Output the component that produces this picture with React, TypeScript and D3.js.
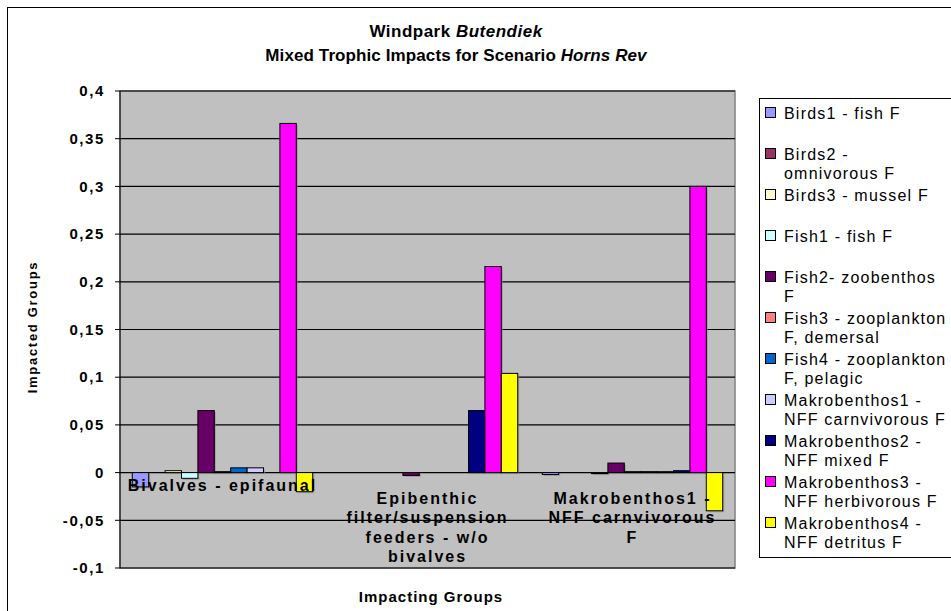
import React from "react";
import * as d3 from "d3";

const categories = [
  ["Bivalves - epifaunal"],
  ["Epibenthic", "filter/suspension", "feeders - w/o", "bivalves"],
  ["Makrobenthos1 -", "NFF carnvivorous", "F"],
];

const seriesNames = [
  ["Birds1 - fish F"],
  ["Birds2 -", "omnivorous F"],
  ["Birds3 - mussel F"],
  ["Fish1 - fish F"],
  ["Fish2- zoobenthos", "F"],
  ["Fish3 - zooplankton", "F, demersal"],
  ["Fish4 - zooplankton", "F, pelagic"],
  ["Makrobenthos1 -", "NFF carnvivorous F"],
  ["Makrobenthos2 -", "NFF mixed F"],
  ["Makrobenthos3 -", "NFF herbivorous F"],
  ["Makrobenthos4 -", "NFF detritus F"],
];

const seriesColors = [
  "#9999FF", "#993366", "#FFFFCC", "#CCFFFF", "#660066", "#FF8080",
  "#0066CC", "#CCCCFF", "#000080", "#FF00FF", "#FFFF00",
];

// values[series][category]
const birds1 = [-0.015, 0, -0.002];
const birds2 = [0, 0, 0];
const birds3 = [0.002, 0, 0];
const fish1 = [-0.006, 0, -0.001];
const fish2 = [0.065, -0.003, 0.01];
const fish3 = [0.001, 0, 0.001];
const fish4 = [0.005, 0, 0.001];
const makro1 = [0.005, 0, 0.001];
const makro2 = [0, 0.065, 0.002];
const makro3 = [0.366, 0.216, 0.3];
const makro4 = [-0.02, 0.104, -0.04];
const values = [birds1, birds2, birds3, fish1, fish2, fish3, fish4, makro1, makro2, makro3, makro4];

const yTicks = [0.4, 0.35, 0.3, 0.25, 0.2, 0.15, 0.1, 0.05, 0, -0.05, -0.1];

const fmt = (v: number) => String(v).replace(".", ",");

export default function App() {
  const W = 951, H = 611;
  const plot = { x0: 120, x1: 735, y0: 91, y1: 568 };
  const y = d3.scaleLinear().domain([-0.1, 0.4]).range([plot.y1, plot.y0]);
  const xCat = d3.scaleBand<number>().domain(d3.range(categories.length)).range([plot.x0, plot.x1]).paddingInner(0).paddingOuter(0);
  const catW = xCat.bandwidth();
  const barW = catW / 12.5;
  const xSeries = d3.scaleBand<number>().domain(d3.range(seriesNames.length)).range([barW * 0.75, barW * 0.75 + barW * 11]);
  const font = "'Liberation Sans', Arial, sans-serif";
  const legTop = 113, legStep = 41, lineH = 19;

  return (
    <svg width={W} height={H} style={{ position: "absolute", left: 0, top: 0, background: "#fff" }} fontFamily={font}>
      <rect x={7.5} y={7.5} width={960} height={620} fill="#fff" stroke="#000" strokeWidth={1} />
      <text x={456} y={37} textAnchor="middle" fontSize={17} fontWeight="bold" letterSpacing={0.5}>
        Windpark <tspan fontStyle="italic">Butendiek</tspan>
      </text>
      <text x={456} y={61} textAnchor="middle" fontSize={17} fontWeight="bold" letterSpacing={0.1}>
        Mixed Trophic Impacts for Scenario <tspan fontStyle="italic">Horns Rev</tspan>
      </text>

      <rect x={plot.x0} y={plot.y0} width={plot.x1 - plot.x0} height={plot.y1 - plot.y0} fill="#C0C0C0" stroke="#808080" strokeWidth={1.5} />
      {yTicks.map((t) => (
        <g key={t}>
          <line x1={plot.x0} x2={plot.x1} y1={y(t)} y2={y(t)} stroke="#000" strokeWidth={1.2} />
          <line x1={plot.x0 - 5} x2={plot.x0} y1={y(t)} y2={y(t)} stroke="#000" strokeWidth={1} />
          <text x={plot.x0 - 15} y={y(t)} dy="0.35em" textAnchor="end" fontSize={15} fontWeight="bold" letterSpacing={1.6}>
            {fmt(t)}
          </text>
        </g>
      ))}
      <line x1={plot.x0} x2={plot.x0} y1={plot.y0} y2={plot.y1} stroke="#000" strokeWidth={1} />

      {values.map((vals, si) =>
        vals.map((v, ci) => {
          if (v === 0) return null;
          const x = (xCat(ci) as number) + (xSeries(si) as number);
          const yTop = y(Math.max(v, 0));
          const h = Math.abs(y(v) - y(0));
          return (
            <g key={si + "-" + ci}>
              <rect x={x + 1.5} y={yTop + 1.5} width={barW} height={Math.max(h, 1)} fill="#8a8a8a" opacity={0.6} />
              <rect x={x} y={yTop} width={barW} height={Math.max(h, 1)} fill={seriesColors[si]} stroke="#000" strokeWidth={1} />
            </g>
          );
        })
      )}

      {categories.map((lines, ci) => {
        const cx = (xCat(ci) as number) + catW / 2;
        const startY = y(0) + (lines.length === 1 ? 18 : 31);
        return (
          <text key={ci} x={cx} y={startY} textAnchor="middle" fontSize={16} fontWeight="bold" letterSpacing={2}>
            {lines.map((l, li) => (
              <tspan key={li} x={cx} dy={li === 0 ? 0 : 19.5}>{l}</tspan>
            ))}
          </text>
        );
      })}

      <text transform={`translate(37,327) rotate(-90)`} textAnchor="middle" fontSize={13} fontWeight="bold" letterSpacing={1.7}>
        Impacted Groups
      </text>
      <text x={431} y={602} textAnchor="middle" fontSize={15} fontWeight="bold" letterSpacing={1}>
        Impacting Groups
      </text>

      <rect x={759.5} y={98.5} width={220} height={459} fill="#fff" stroke="#000" strokeWidth={1} />
      {seriesNames.map((lines, si) => {
        const cy = legTop + si * legStep;
        return (
          <g key={si}>
            <rect x={765.5} y={cy - 5.5} width={10} height={10} fill={seriesColors[si]} stroke="#000" strokeWidth={1} />
            <text x={784} y={cy} fontSize={16} letterSpacing={1.2}>
              {lines.map((l, li) => (
                <tspan key={li} x={784} dy={li === 0 ? "0.35em" : lineH}>{l}</tspan>
              ))}
            </text>
          </g>
        );
      })}
    </svg>
  );
}
